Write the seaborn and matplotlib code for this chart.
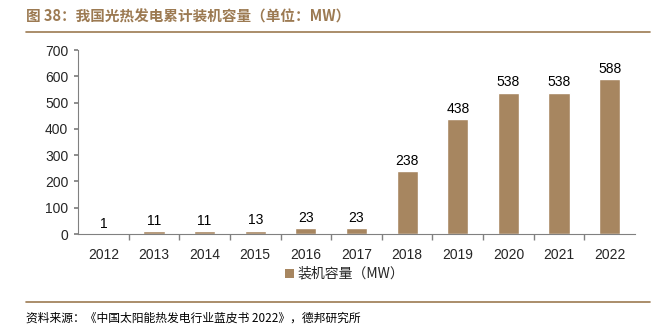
import matplotlib
matplotlib.use("Agg")
import matplotlib.pyplot as plt
import seaborn as sns
import pandas as pd
from matplotlib.lines import Line2D
from matplotlib.patches import Patch

years = ["2012", "2013", "2014", "2015", "2016", "2017", "2018", "2019", "2020", "2021", "2022"]
capacity = [1, 11, 11, 13, 23, 23, 238, 438, 538, 538, 588]
series_name = "装机容量（MW）"
title = "图 38：我国光热发电累计装机容量（单位：MW）"
source = "资料来源：《中国太阳能热发电行业蓝皮书 2022》，德邦研究所"

sns.set_theme(style="white")
plt.rcParams['font.family'] = ['Liberation Sans', 'Noto Sans CJK SC', 'DejaVu Sans']

bar_color = "#a78660"
brown = "#9c7a52"

df = pd.DataFrame({"year": years, "cap": capacity})

fig = plt.figure(figsize=(6.56, 3.34), dpi=100)
ax = fig.add_axes([78/656, 1-234/334, (635-78)/656, (234-50)/334])
sns.barplot(data=df, x="year", y="cap", color=bar_color, width=0.42, saturation=1, ax=ax)

ax.set_ylim(0, 700)
ax.set_yticks(range(0, 701, 100))
ax.set_xlim(-0.5, len(years) - 0.5)
ax.set_xlabel("")
ax.set_ylabel("")
for s in ["top", "right"]:
    ax.spines[s].set_visible(False)
for s in ["left", "bottom"]:
    ax.spines[s].set_color("#808080")
    ax.spines[s].set_linewidth(0.8)
ax.tick_params(axis="y", which="both", left=True, length=3, color="#808080", labelsize=10, pad=4)
ax.tick_params(axis="x", which="major", bottom=False, labelsize=10, pad=4)
ax.set_xticks([i + 0.5 for i in range(len(years) - 1)], minor=True)
ax.tick_params(axis="x", which="minor", bottom=True, length=4, color="#808080", direction="out")

for i, v in enumerate(capacity):
    ax.text(i, v + 12, str(v), ha="center", va="bottom", fontsize=10, color="#000000")

# legend
leg = fig.legend(handles=[Patch(facecolor=bar_color, edgecolor="none", label=series_name)],
                 loc="center", bbox_to_anchor=(345/656, 1-274/334), frameon=False,
                 handlelength=0.6, handleheight=0.6, handletextpad=0.3, borderpad=0.1,
                 prop={"family": ['Noto Sans CJK SC', 'DejaVu Sans'], "size": 10})

# title and rules
fig.text(26/656, 1-17/334, title, ha="left", va="center", fontsize=10.5, color=brown,
         fontweight="bold", family=['Noto Sans CJK SC', 'DejaVu Sans'])
fig.add_artist(Line2D([26/656, 650/656], [1-32/334, 1-32/334], color=brown, lw=1.2))
fig.add_artist(Line2D([26/656, 650/656], [1-302/334, 1-302/334], color=brown, lw=1.2))
fig.text(26/656, 1-318/334, source, ha="left", va="center", fontsize=8.5, color="#000000",
         family=['Noto Sans CJK SC', 'DejaVu Sans'])

fig.savefig("out.png", dpi=100)
